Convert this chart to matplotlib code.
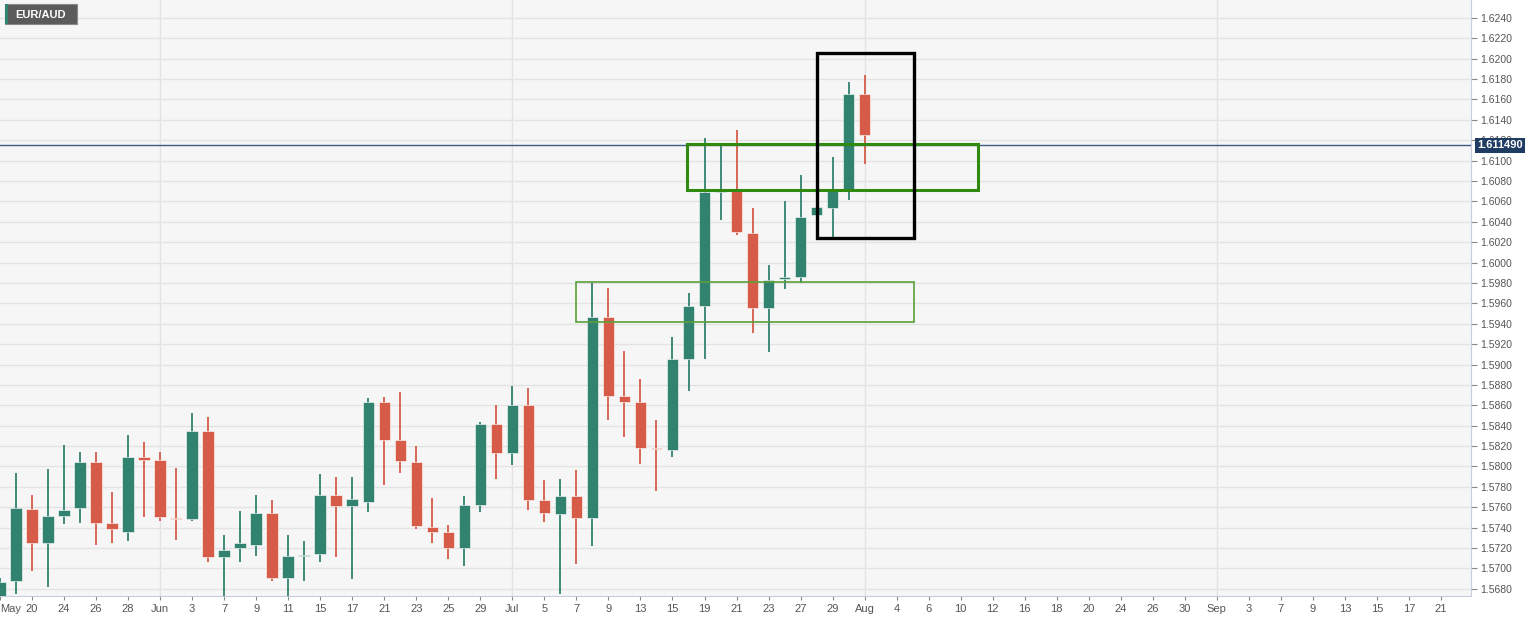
import numpy as np
import matplotlib
matplotlib.use("Agg")
import matplotlib.pyplot as plt
from matplotlib.patches import Rectangle

plt.rcParams['font.family'] = ['Liberation Sans', 'DejaVu Sans']

# daily EUR/AUD candles, trading days from May 18 to Aug 3
opens = [1.5672, 1.5688, 1.5758, 1.5725, 1.5751, 1.5759, 1.5804, 1.5745, 1.5736, 1.5809,
         1.5806, 1.5749, 1.5748, 1.5835, 1.5711, 1.5720, 1.5723, 1.5754, 1.5691, 1.5712,
         1.5714, 1.5772, 1.5761, 1.5765, 1.5863, 1.5826, 1.5804, 1.5741, 1.5736, 1.5720,
         1.5762, 1.5842, 1.5813, 1.5860, 1.5767, 1.5753, 1.5771, 1.5749, 1.5947, 1.5869,
         1.5863, 1.5818, 1.5816, 1.5905, 1.5957, 1.6069, 1.6070, 1.6029, 1.5955, 1.5984,
         1.5986, 1.6047, 1.6054, 1.6072, 1.6165, 1.6115]
highs = [1.5691, 1.5794, 1.5772, 1.5798, 1.5821, 1.5814, 1.5814, 1.5775, 1.5831, 1.5824,
         1.5814, 1.5799, 1.5852, 1.5849, 1.5733, 1.5756, 1.5772, 1.5767, 1.5733, 1.5727,
         1.5793, 1.5790, 1.5790, 1.5867, 1.5868, 1.5873, 1.5820, 1.5769, 1.5743, 1.5771,
         1.5844, 1.5860, 1.5879, 1.5877, 1.5787, 1.5788, 1.5797, 1.5980, 1.5975, 1.5913,
         1.5886, 1.5846, 1.5927, 1.5970, 1.6122, 1.6114, 1.6130, 1.6054, 1.5998, 1.6060,
         1.6086, 1.6056, 1.6104, 1.6177, 1.6184, 1.6115]
lows = [1.5665, 1.5675, 1.5697, 1.5682, 1.5744, 1.5745, 1.5723, 1.5725, 1.5727, 1.5750,
        1.5747, 1.5728, 1.5747, 1.5706, 1.5670, 1.5706, 1.5712, 1.5688, 1.5673, 1.5688,
        1.5706, 1.5711, 1.5690, 1.5755, 1.5782, 1.5794, 1.5739, 1.5725, 1.5709, 1.5702,
        1.5755, 1.5788, 1.5801, 1.5757, 1.5746, 1.5675, 1.5704, 1.5722, 1.5846, 1.5829,
        1.5802, 1.5776, 1.5809, 1.5874, 1.5905, 1.6042, 1.6027, 1.5931, 1.5912, 1.5974,
        1.5980, 1.6046, 1.6025, 1.6061, 1.6097, 1.6115]
closes = [1.5687, 1.5759, 1.5725, 1.5751, 1.5757, 1.5804, 1.5745, 1.5739, 1.5809, 1.5806,
          1.5750, 1.5748, 1.5835, 1.5711, 1.5718, 1.5725, 1.5754, 1.5691, 1.5712, 1.5713,
          1.5772, 1.5761, 1.5768, 1.5863, 1.5826, 1.5805, 1.5742, 1.5736, 1.5720, 1.5762,
          1.5842, 1.5813, 1.5860, 1.5767, 1.5754, 1.5771, 1.5749, 1.5947, 1.5869, 1.5863,
          1.5818, 1.5817, 1.5905, 1.5957, 1.6069, 1.6071, 1.6030, 1.5955, 1.5983, 1.5986,
          1.6045, 1.6055, 1.6070, 1.6165, 1.6125, 1.61149]

last_price = 1.611490

# x tick labels, one every second trading day starting May 18
date_labels = ['May', '20', '24', '26', '28', 'Jun', '3', '7', '9', '11', '15', '17', '21',
               '23', '25', '29', 'Jul', '5', '7', '9', '13', '15', '19', '21', '23', '27',
               '29', 'Aug', '4', '6', '10', '12', '16', '18', '20', '24', '26', '30', 'Sep',
               '3', '7', '9', '13', '15', '17', '21']
month_starts = [10, 32, 54, 76]   # Jun 1, Jul 1, Aug 2, Sep 1 (trading-day index)

# annotation boxes: (start idx, end idx, low, high)
box_upper = (42.9, 61.1, 1.6071, 1.6116)
box_lower = (36.0, 57.1, 1.5942, 1.5981)
box_black = (51.0, 57.1, 1.6024, 1.6206)

green = '#31826f'
red = '#d65c49'

fig = plt.figure(figsize=(15.36, 6.18), dpi=100)
fig.patch.set_facecolor('white')
ax = fig.add_axes([0.0, 0.036, 0.958, 0.964])
ax.set_facecolor('#f6f6f6')

x = np.arange(len(opens))
o = np.array(opens)
c = np.array(closes)
cols = [green if cc >= oo else red for oo, cc in zip(o, c)]
cols[-1] = '#7a9aa8'

ax.vlines(x, lows, highs, colors=cols, linewidth=1.3, zorder=3)
body_h = np.maximum(np.abs(c - o), 0.00005)
ax.bar(x, body_h, bottom=np.minimum(o, c), width=0.72, color=cols,
       edgecolor='white', linewidth=0.4, zorder=4)

# grid
yt = np.arange(1.5680, 1.62401, 0.002)
for v in yt:
    ax.axhline(v, color='#e3e3e3', linewidth=1.0, zorder=0)
for m in month_starts:
    ax.axvline(m, color='#e3e3e3', linewidth=1.0, zorder=0)

# current price line
ax.axhline(last_price, color='#3b5a85', linewidth=1.0, zorder=5)

# boxes
for (x0, x1, y0, y1), ec, lw in [(box_upper, '#2f8a0f', 2.2), (box_lower, '#5aa03a', 1.2),
                                 (box_black, 'black', 2.4)]:
    ax.add_patch(Rectangle((x0, y0), x1 - x0, y1 - y0, fill=False, edgecolor=ec,
                           linewidth=lw, zorder=6))

ax.set_xlim(0, 91.9)
ax.set_ylim(1.56732, 1.62576)

ax.set_xticks(np.arange(0, 2 * len(date_labels), 2))
ax.set_xticklabels(date_labels)
ax.get_xticklabels()[0].set_horizontalalignment('left')
ax.yaxis.tick_right()
ax.set_yticks(yt)
ax.set_yticklabels(['%.4f' % v for v in yt])
ax.tick_params(axis='y', labelsize=7.5, colors='#888888', length=4, width=0.8, pad=2)
ax.tick_params(axis='x', labelsize=8, colors='#888888', length=3, width=0.8, pad=3)
for lab in ax.get_yticklabels() + ax.get_xticklabels():
    lab.set_color('#555555')

for s in ['top', 'left']:
    ax.spines[s].set_visible(False)
ax.spines['right'].set_color('#c5cde0')
ax.spines['bottom'].set_color('#c5cde0')

# price label on the axis
ax.text(1.004, last_price, '%.6f' % last_price, transform=ax.get_yaxis_transform(),
        ha='left', va='center', fontsize=8, color='white', fontweight='bold', zorder=10,
        bbox=dict(boxstyle='square,pad=0.22', facecolor='#1f3d63', edgecolor='none'),
        clip_on=False)

# symbol tag
fig.patches.append(Rectangle((5 / 1536, 1 - 24 / 618), 72 / 1536, 20 / 618,
                             transform=fig.transFigure, facecolor='#5b5b5b',
                             edgecolor='#8a8a8a', linewidth=0.8))
fig.patches.append(Rectangle((5 / 1536, 1 - 24 / 618), 2.5 / 1536, 20 / 618,
                             transform=fig.transFigure, facecolor=green, edgecolor='none'))
fig.text(15 / 1536, 1 - 14.5 / 618, 'EUR/AUD', ha='left', va='center', fontsize=8,
         color='white', fontweight='bold')

fig.savefig('out.png', dpi=100)
